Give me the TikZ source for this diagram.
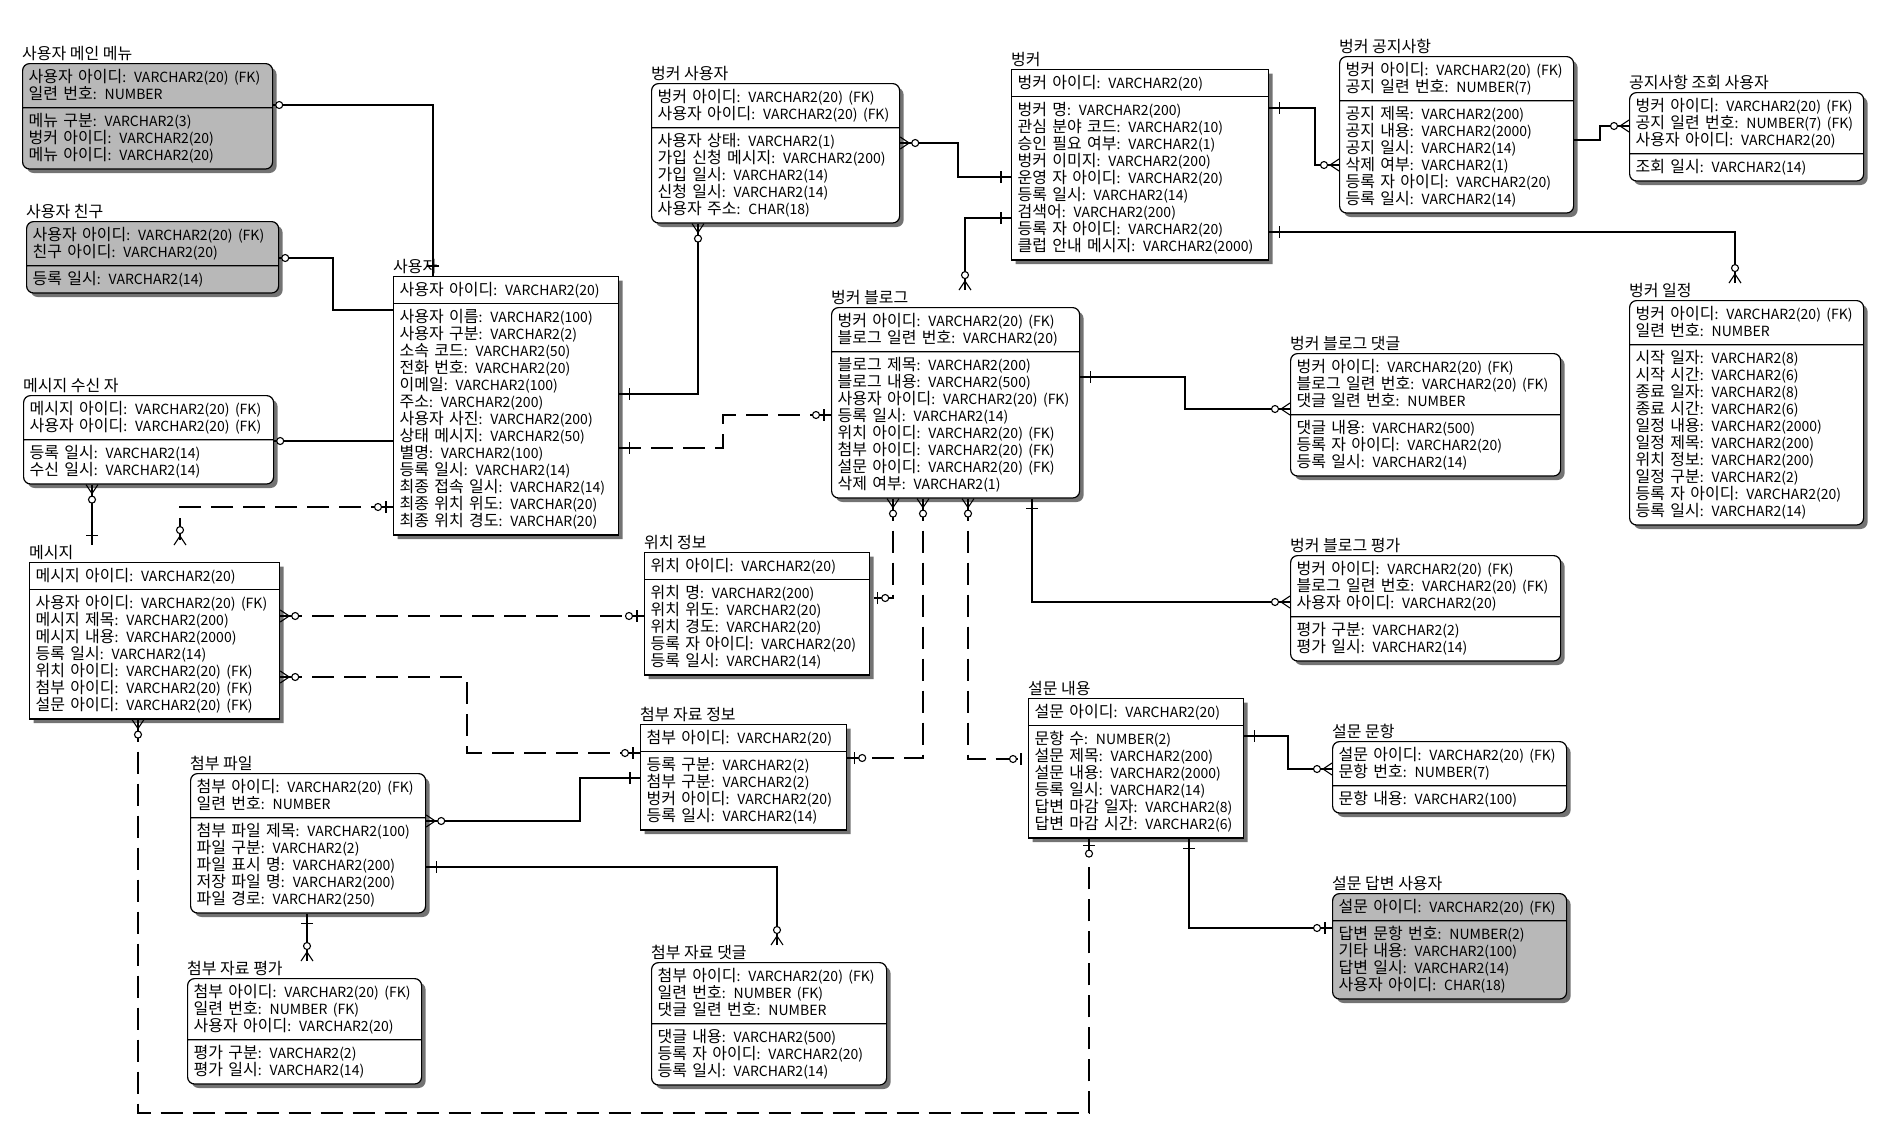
\documentclass[tikz,border=0pt]{standalone}
\usepackage{fontspec}
\setmainfont{Noto Sans CJK KR}
\usetikzlibrary{shapes.multipart,shadows,decorations.markings}

\lineskiplimit=-20pt
\newcommand\tyf{\fontsize{14}{17}\selectfont}
\newcommand\fld[2]{\mbox{\rule[-3.5pt]{0pt}{17pt}#1{\tyf: #2}}}
% end marks, drawn with the path running along +x into the table
\newcommand\mkone{\draw[solid] (-10,-6) -- (-10,6);}
\newcommand\mkzone{\draw[solid] (-7,-6) -- (-7,6); \draw[solid,fill=white] (-15,0) circle (3.5);}
\newcommand\mkzmany{\draw[solid] (-9,0) -- (0,-6) (-9,0) -- (0,6); \draw[solid,fill=white] (-15,0) circle (3.5);}
\newcommand\mkring{\draw[solid,fill=white] (-6,0) circle (3.5);}

\tikzset{
  ent/.style={rectangle split, rectangle split parts=2, draw, line width=1.2pt, fill=white,
    anchor=north west, inner xsep=6pt, inner ysep=4.5pt, align=left,
    font=\fontsize{16}{17}\selectfont,
    general shadow={shadow xshift=4pt, shadow yshift=-4pt, fill=black!55}},
  soft/.style={ent, rounded corners=7pt},
  grey/.style={soft, fill=black!28},
  ttl/.style={anchor=base west, inner sep=0pt, font=\fontsize{16}{17}\selectfont},
  rel/.style={line width=1.1pt},
  drel/.style={rel, dash pattern=on 22pt off 10pt},
  mk/.style 2 args={postaction={decorate, decoration={markings, mark=at position #1 with {#2}}}},
  one start/.style={mk={0}{\begin{scope}[xscale=-1]\mkone\end{scope}}},
  one end/.style={mk={1}{\mkone}},
  zone end/.style={mk={1}{\mkzone}},
  zone start/.style={mk={0}{\begin{scope}[xscale=-1]\mkzone\end{scope}}},
  zmany start/.style={mk={0}{\begin{scope}[xscale=-1]\mkzmany\end{scope}}},
  zmany end/.style={mk={1}{\mkzmany}},
  ring start/.style={mk={0}{\begin{scope}[xscale=-1]\mkring\end{scope}}},
}

\begin{document}
\begin{tikzpicture}[x=1pt,y=-1pt]
\useasboundingbox (0,0) rectangle (1894,1130);

% left column
\node[grey, text width=238pt] (menu) at (22,63) {\fld{사용자 아이디}{VARCHAR2(20) (FK)}\\\fld{일련 번호}{NUMBER}\nodepart{two}\fld{메뉴 구분}{VARCHAR2(3)}\\\fld{벙커 아이디}{VARCHAR2(20)}\\\fld{메뉴 아이디}{VARCHAR2(20)}};
\node[ttl] (menuT) at ([yshift=3.5pt]menu.north west) {사용자 메인 메뉴};

\node[grey, text width=240pt] (friend) at (26,221) {\fld{사용자 아이디}{VARCHAR2(20) (FK)}\\\fld{친구 아이디}{VARCHAR2(20)}\nodepart{two}\fld{등록 일시}{VARCHAR2(14)}};
\node[ttl] (friendT) at ([yshift=3.5pt]friend.north west) {사용자 친구};

\node[soft, text width=238pt] (recv) at (23,395) {\fld{메시지 아이디}{VARCHAR2(20) (FK)}\\\fld{사용자 아이디}{VARCHAR2(20) (FK)}\nodepart{two}\fld{등록 일시}{VARCHAR2(14)}\\\fld{수신 일시}{VARCHAR2(14)}};
\node[ttl] (recvT) at ([yshift=3.5pt]recv.north west) {메시지 수신 자};

\node[ent, text width=238pt] (msg) at (29,562) {\fld{메시지 아이디}{VARCHAR2(20)}\nodepart{two}\fld{사용자 아이디}{VARCHAR2(20) (FK)}\\\fld{메시지 제목}{VARCHAR2(200)}\\\fld{메시지 내용}{VARCHAR2(2000)}\\\fld{등록 일시}{VARCHAR2(14)}\\\fld{위치 아이디}{VARCHAR2(20) (FK)}\\\fld{첨부 아이디}{VARCHAR2(20) (FK)}\\\fld{설문 아이디}{VARCHAR2(20) (FK)}};
\node[ttl] (msgT) at ([yshift=3.5pt]msg.north west) {메시지};

\node[soft, text width=223pt] (file) at (190,773) {\fld{첨부 아이디}{VARCHAR2(20) (FK)}\\\fld{일련 번호}{NUMBER}\nodepart{two}\fld{첨부 파일 제목}{VARCHAR2(100)}\\\fld{파일 구분}{VARCHAR2(2)}\\\fld{파일 표시 명}{VARCHAR2(200)}\\\fld{저장 파일 명}{VARCHAR2(200)}\\\fld{파일 경로}{VARCHAR2(250)}};
\node[ttl] (fileT) at ([yshift=3.5pt]file.north west) {첨부 파일};

\node[soft, text width=222pt] (frate) at (187,978) {\fld{첨부 아이디}{VARCHAR2(20) (FK)}\\\fld{일련 번호}{NUMBER (FK)}\\\fld{사용자 아이디}{VARCHAR2(20)}\nodepart{two}\fld{평가 구분}{VARCHAR2(2)}\\\fld{평가 일시}{VARCHAR2(14)}};
\node[ttl] (frateT) at ([yshift=3.5pt]frate.north west) {첨부 자료 평가};

% middle
\node[ent, text width=213pt] (user) at (393,276) {\fld{사용자 아이디}{VARCHAR2(20)}\nodepart{two}\fld{사용자 이름}{VARCHAR2(100)}\\\fld{사용자 구분}{VARCHAR2(2)}\\\fld{소속 코드}{VARCHAR2(50)}\\\fld{전화 번호}{VARCHAR2(20)}\\\fld{이메일}{VARCHAR2(100)}\\\fld{주소}{VARCHAR2(200)}\\\fld{사용자 사진}{VARCHAR2(200)}\\\fld{상태 메시지}{VARCHAR2(50)}\\\fld{별명}{VARCHAR2(100)}\\\fld{등록 일시}{VARCHAR2(14)}\\\fld{최종 접속 일시}{VARCHAR2(14)}\\\fld{최종 위치 위도}{VARCHAR(20)}\\\fld{최종 위치 경도}{VARCHAR(20)}};
\node[ttl] (userT) at ([yshift=3.5pt]user.north west) {사용자};

\node[soft, text width=236pt] (buser) at (651,83) {\fld{벙커 아이디}{VARCHAR2(20) (FK)}\\\fld{사용자 아이디}{VARCHAR2(20) (FK)}\nodepart{two}\fld{사용자 상태}{VARCHAR2(1)}\\\fld{가입 신청 메시지}{VARCHAR2(200)}\\\fld{가입 일시}{VARCHAR2(14)}\\\fld{신청 일시}{VARCHAR2(14)}\\\fld{사용자 주소}{CHAR(18)}};
\node[ttl] (buserT) at ([yshift=3.5pt]buser.north west) {벙커 사용자};

\node[ent, text width=213pt] (loc) at (644,552) {\fld{위치 아이디}{VARCHAR2(20)}\nodepart{two}\fld{위치 명}{VARCHAR2(200)}\\\fld{위치 위도}{VARCHAR2(20)}\\\fld{위치 경도}{VARCHAR2(20)}\\\fld{등록 자 아이디}{VARCHAR2(20)}\\\fld{등록 일시}{VARCHAR2(14)}};
\node[ttl] (locT) at ([yshift=3.5pt]loc.north west) {위치 정보};

\node[ent, text width=194pt] (att) at (640,724) {\fld{첨부 아이디}{VARCHAR2(20)}\nodepart{two}\fld{등록 구분}{VARCHAR2(2)}\\\fld{첨부 구분}{VARCHAR2(2)}\\\fld{벙커 아이디}{VARCHAR2(20)}\\\fld{등록 일시}{VARCHAR2(14)}};
\node[ttl] (attT) at ([yshift=3.5pt]att.north west) {첨부 자료 정보};

\node[soft, text width=223pt] (fcmt) at (651,962) {\fld{첨부 아이디}{VARCHAR2(20) (FK)}\\\fld{일련 번호}{NUMBER (FK)}\\\fld{댓글 일련 번호}{NUMBER}\nodepart{two}\fld{댓글 내용}{VARCHAR2(500)}\\\fld{등록 자 아이디}{VARCHAR2(20)}\\\fld{등록 일시}{VARCHAR2(14)}};
\node[ttl] (fcmtT) at ([yshift=3.5pt]fcmt.north west) {첨부 자료 댓글};

\node[soft, text width=236pt] (blog) at (831,307) {\fld{벙커 아이디}{VARCHAR2(20) (FK)}\\\fld{블로그 일련 번호}{VARCHAR2(20)}\nodepart{two}\fld{블로그 제목}{VARCHAR2(200)}\\\fld{블로그 내용}{VARCHAR2(500)}\\\fld{사용자 아이디}{VARCHAR2(20) (FK)}\\\fld{등록 일시}{VARCHAR2(14)}\\\fld{위치 아이디}{VARCHAR2(20) (FK)}\\\fld{첨부 아이디}{VARCHAR2(20) (FK)}\\\fld{설문 아이디}{VARCHAR2(20) (FK)}\\\fld{삭제 여부}{VARCHAR2(1)}};
\node[ttl] (blogT) at ([yshift=3.5pt]blog.north west) {벙커 블로그};

\node[ent, text width=245pt] (bunker) at (1011,69) {\fld{벙커 아이디}{VARCHAR2(20)}\nodepart{two}\fld{벙커 명}{VARCHAR2(200)}\\\fld{관심 분야 코드}{VARCHAR2(10)}\\\fld{승인 필요 여부}{VARCHAR2(1)}\\\fld{벙커 이미지}{VARCHAR2(200)}\\\fld{운영 자 아이디}{VARCHAR2(20)}\\\fld{등록 일시}{VARCHAR2(14)}\\\fld{검색어}{VARCHAR2(200)}\\\fld{등록 자 아이디}{VARCHAR2(20)}\\\fld{클럽 안내 메시지}{VARCHAR2(2000)}};
\node[ttl] (bunkerT) at ([yshift=3.5pt]bunker.north west) {벙커};

\node[ent, text width=203pt] (survey) at (1028,698) {\fld{설문 아이디}{VARCHAR2(20)}\nodepart{two}\fld{문항 수}{NUMBER(2)}\\\fld{설문 제목}{VARCHAR2(200)}\\\fld{설문 내용}{VARCHAR2(2000)}\\\fld{등록 일시}{VARCHAR2(14)}\\\fld{답변 마감 일자}{VARCHAR2(8)}\\\fld{답변 마감 시간}{VARCHAR2(6)}};
\node[ttl] (surveyT) at ([yshift=3.5pt]survey.north west) {설문 내용};

% right side
\node[soft, text width=222pt] (notice) at (1339,56) {\fld{벙커 아이디}{VARCHAR2(20) (FK)}\\\fld{공지 일련 번호}{NUMBER(7)}\nodepart{two}\fld{공지 제목}{VARCHAR2(200)}\\\fld{공지 내용}{VARCHAR2(2000)}\\\fld{공지 일시}{VARCHAR2(14)}\\\fld{삭제 여부}{VARCHAR2(1)}\\\fld{등록 자 아이디}{VARCHAR2(20)}\\\fld{등록 일시}{VARCHAR2(14)}};
\node[ttl] (noticeT) at ([yshift=3.5pt]notice.north west) {벙커 공지사항};

\node[soft, text width=222pt] (nview) at (1629,92) {\fld{벙커 아이디}{VARCHAR2(20) (FK)}\\\fld{공지 일련 번호}{NUMBER(7) (FK)}\\\fld{사용자 아이디}{VARCHAR2(20)}\nodepart{two}\fld{조회 일시}{VARCHAR2(14)}};
\node[ttl] (nviewT) at ([yshift=3.5pt]nview.north west) {공지사항 조회 사용자};

\node[soft, text width=222pt] (sched) at (1629,300) {\fld{벙커 아이디}{VARCHAR2(20) (FK)}\\\fld{일련 번호}{NUMBER}\nodepart{two}\fld{시작 일자}{VARCHAR2(8)}\\\fld{시작 시간}{VARCHAR2(6)}\\\fld{종료 일자}{VARCHAR2(8)}\\\fld{종료 시간}{VARCHAR2(6)}\\\fld{일정 내용}{VARCHAR2(2000)}\\\fld{일정 제목}{VARCHAR2(200)}\\\fld{위치 정보}{VARCHAR2(200)}\\\fld{일정 구분}{VARCHAR2(2)}\\\fld{등록 자 아이디}{VARCHAR2(20)}\\\fld{등록 일시}{VARCHAR2(14)}};
\node[ttl] (schedT) at ([yshift=3.5pt]sched.north west) {벙커 일정};

\node[soft, text width=258pt] (bcmt) at (1290,353) {\fld{벙커 아이디}{VARCHAR2(20) (FK)}\\\fld{블로그 일련 번호}{VARCHAR2(20) (FK)}\\\fld{댓글 일련 번호}{NUMBER}\nodepart{two}\fld{댓글 내용}{VARCHAR2(500)}\\\fld{등록 자 아이디}{VARCHAR2(20)}\\\fld{등록 일시}{VARCHAR2(14)}};
\node[ttl] (bcmtT) at ([yshift=3.5pt]bcmt.north west) {벙커 블로그 댓글};

\node[soft, text width=258pt] (brate) at (1290,555) {\fld{벙커 아이디}{VARCHAR2(20) (FK)}\\\fld{블로그 일련 번호}{VARCHAR2(20) (FK)}\\\fld{사용자 아이디}{VARCHAR2(20)}\nodepart{two}\fld{평가 구분}{VARCHAR2(2)}\\\fld{평가 일시}{VARCHAR2(14)}};
\node[ttl] (brateT) at ([yshift=3.5pt]brate.north west) {벙커 블로그 평가};

\node[soft, text width=222pt] (sitem) at (1332,741) {\fld{설문 아이디}{VARCHAR2(20) (FK)}\\\fld{문항 번호}{NUMBER(7)}\nodepart{two}\fld{문항 내용}{VARCHAR2(100)}};
\node[ttl] (sitemT) at ([yshift=3.5pt]sitem.north west) {설문 문항};

\node[grey, text width=222pt] (sans) at (1332,893) {\fld{설문 아이디}{VARCHAR2(20) (FK)}\nodepart{two}\fld{답변 문항 번호}{NUMBER(2)}\\\fld{기타 내용}{VARCHAR2(100)}\\\fld{답변 일시}{VARCHAR2(14)}\\\fld{사용자 아이디}{CHAR(18)}};
\node[ttl] (sansT) at ([yshift=3.5pt]sans.north west) {설문 답변 사용자};

% relationships
\draw[rel, ring start, one end] (menu.east |- 0,105) -| (433,0 |- user.north);
\draw[rel, ring start] (friend.east |- 0,258) -| (333,310) -- (user.west |- 0,310);
\draw[rel, ring start] (recv.east |- 0,441) -- (user.west |- 0,441);
\draw[rel, zmany start, one end] (recv.south -| 92,0) -- (92,0 |- msgT.north);
\draw[drel, zone start, zmany end] (user.west |- 0,507) -| (180,0 |- msgT.north);
\draw[rel, one start, zmany end] (user.east |- 0,394) -| (698,0 |- buser.south);
\draw[drel, one start, zone end] (user.east |- 0,448) -| (723,415) -- (blog.west |- 0,415);
\draw[rel, one start, zmany end] (bunker.west |- 0,177) -| (958,143) -- (buser.east |- 0,143);
\draw[rel, one start, zmany end] (bunker.west |- 0,218) -| (965,0 |- blogT.north);
\draw[rel, one start, zmany end] (bunker.east |- 0,108) -| (1315,165) -- (notice.west |- 0,165);
\draw[rel, one start, zmany end] (bunker.east |- 0,232) -| (1735,0 |- schedT.north);
\draw[rel, zmany end] (notice.east |- 0,140) -| (1600,126) -- (nview.west |- 0,126);
\draw[rel, one start, zmany end] (blog.east |- 0,377) -| (1185,409) -- (bcmt.west |- 0,409);
\draw[rel, one start, zmany end] (blog.south -| 1032,0) |- (brate.west |- 0,602);
\draw[drel, zmany start, zone end] (blog.south -| 893,0) |- (loc.east |- 0,598);
\draw[drel, zmany start, zone end] (blog.south -| 923,0) |- (att.east |- 0,758);
\draw[drel, zmany start, zone end] (blog.south -| 968,0) |- (survey.west |- 0,759);
\draw[rel, one start, zmany end] (survey.east |- 0,736) -| (1288,769) -- (sitem.west |- 0,769);
\draw[rel, one start, zone end] (survey.south -| 1189,0) |- (sans.west |- 0,928);
\draw[drel, zmany start, zone end] (msg.south -| 138,0) -- (138,1113) -| (survey.south -| 1089,0);
\draw[drel, zmany start, zone end] (msg.east |- 0,616) -- (loc.west |- 0,616);
\draw[drel, zmany start, zone end] (msg.east |- 0,677) -| (467,753) -- (att.west |- 0,753);
\draw[rel, one start, zmany end] (att.west |- 0,778) -| (580,821) -- (file.east |- 0,821);
\draw[rel, one start, zmany end] (file.east |- 0,867) -| (777,0 |- fcmtT.north);
\draw[rel, one start, zmany end] (file.south -| 307,0) -- (307,0 |- frateT.north);
\end{tikzpicture}
\end{document}
